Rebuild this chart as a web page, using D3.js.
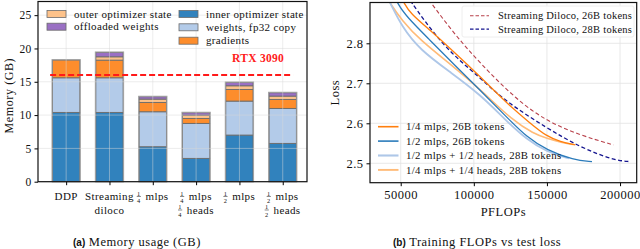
<!DOCTYPE html>
<html>
  <head>
    <title>memory usage and flops vs loss</title>
    <style>
      body { margin: 0; background: #fff; }
      text { font-family: "Liberation Serif", "DejaVu Serif", serif; fill: #111; }
    </style>
  </head>

  <body>
    <script src="https://d3js.org/d3.v7.min.js"></script>
    <script>

// ---- data, panel (a) ----
var methods = ["DDP", "Streaming diloco", "1/4 mlps", "1/4 mlps 1/4 heads", "1/2 mlps", "1/2 mlps 1/2 heads"];
var methodLabels = [["DDP"], ["Streaming", "diloco"], ["1/4 mlps"], ["1/4 mlps", "1/4 heads"], ["1/2 mlps"], ["1/2 mlps", "1/2 heads"]];
var innerOpt  = [10.4, 10.4, 5.25, 3.5, 7.0, 5.75];
var weights32 = [5.2, 5.2, 5.25, 5.25, 5.1, 5.25];
var grads     = [2.65, 2.65, 1.4, 0.75, 1.75, 1.35];
var outerOpt  = [0, 0.5, 0.5, 0.5, 0.55, 0.5];
var offloaded = [0, 0.65, 0.35, 0.35, 0.5, 0.5];
var memTicks = [0, 5, 10, 15, 20, 25];
var rtxLimit = 16;   // GB

// ---- data, panel (b) ----
var diloco26 = { pflops: [64000, 85000, 104300, 129500, 150000, 172800, 195500],
                 loss:   [2.935, 2.83, 2.75, 2.658, 2.605, 2.57, 2.546] };
var diloco28 = { pflops: [54000, 79000, 104300, 120300, 150000, 172800, 195500, 207000],
                 loss:   [2.92, 2.79, 2.715, 2.658, 2.588, 2.54, 2.508, 2.504] };
var q26 = { pflops: [50000, 52300, 56600, 70000, 86000, 104300, 122600, 138600, 150000, 159100, 169400],
            loss:   [2.92, 2.9, 2.875, 2.833, 2.78, 2.717, 2.65, 2.6, 2.567, 2.554, 2.546] };
var h26 = { pflops: [45000, 47700, 54100, 70000, 87000, 104300, 122600, 136300, 150000, 168200, 180800],
            loss:   [2.925, 2.9, 2.866, 2.808, 2.745, 2.683, 2.615, 2.565, 2.533, 2.508, 2.504] };
var hh28 = { pflops: [40000, 43000, 50700, 63200, 85000, 104300, 122000, 136000, 150000, 165000],
             loss:   [2.92, 2.9, 2.842, 2.783, 2.725, 2.672, 2.607, 2.56, 2.528, 2.512] };
var qq28 = { pflops: [40000, 42700, 50700, 63200, 86000, 104300, 127100, 140800, 150000, 160000, 168000],
             loss:   [2.92, 2.9, 2.858, 2.808, 2.742, 2.685, 2.605, 2.575, 2.562, 2.552, 2.547] };
var flopTicks = [50000, 100000, 150000, 200000];
var lossTicks = [2.5, 2.6, 2.7, 2.8];

var W = 640, H = 249;
var svg = d3.select("body").append("svg").attr("width", W).attr("height", H);

// ================= panel (a) =================
var a = { left: 38, right: 307, top: 1.5, bottom: 181.7 };
var xA = d3.scaleLinear().domain([-0.65, 5.56]).range([a.left, a.right]);
var yA = d3.scaleLinear().domain([0, 27.05]).range([a.bottom, a.top]);

var layers = [
  { name: "inner optimizer state", vals: innerOpt,  color: "#3182bd" },
  { name: "weights, fp32 copy",    vals: weights32, color: "#b3cbe9" },
  { name: "gradients",             vals: grads,     color: "#fd8d2c" },
  { name: "outer optimizer state", vals: outerOpt,  color: "#fdc28a" },
  { name: "offloaded weights",     vals: offloaded, color: "#9a70c4" }
];

var barW = 0.63;
var gA = svg.append("g");
methods.forEach(function (m, i) {
  var base = 0;
  layers.forEach(function (l) {
    var v = l.vals[i];
    if (v > 0) {
      gA.append("rect")
        .attr("x", xA(i - barW / 2))
        .attr("width", xA(i + barW / 2) - xA(i - barW / 2))
        .attr("y", yA(base + v))
        .attr("height", yA(base) - yA(base + v))
        .attr("fill", l.color)
        .attr("stroke", "#6b6b6b")
        .attr("stroke-width", 0.9);
    }
    base += v;
  });
  // outer grey edge of the whole bar
  gA.append("rect")
    .attr("x", xA(i - barW / 2) - 0.5)
    .attr("width", xA(i + barW / 2) - xA(i - barW / 2) + 1)
    .attr("y", yA(base) - 0.5)
    .attr("height", yA(0) - yA(base) + 0.5)
    .attr("fill", "none")
    .attr("stroke", "#a0a0a0")
    .attr("stroke-width", 1);
});

// grid on top, faint
memTicks.forEach(function (t) {
  gA.append("line").attr("x1", a.left).attr("x2", a.right).attr("y1", yA(t)).attr("y2", yA(t))
    .attr("stroke", "#d8d8d8").attr("stroke-opacity", 0.6).attr("stroke-width", 0.8);
});
methods.forEach(function (m, i) {
  gA.append("line").attr("x1", xA(i)).attr("x2", xA(i)).attr("y1", a.top).attr("y2", a.bottom)
    .attr("stroke", "#d8d8d8").attr("stroke-opacity", 0.6).attr("stroke-width", 0.8);
});

// RTX 3090 line
gA.append("line")
  .attr("x1", xA(-0.37)).attr("x2", xA(5.24))
  .attr("y1", yA(rtxLimit)).attr("y2", yA(rtxLimit))
  .attr("stroke", "#ff1a1a").attr("stroke-width", 2).attr("stroke-dasharray", "6,3");
gA.append("text").attr("x", 232).attr("y", 62)
  .style("font-weight", "bold").style("font-size", "11.5px").style("letter-spacing", "0.3px").style("fill", "#ff1a1a")
  .text("RTX 3090");

// axes
var yAxisA = d3.axisLeft(yA).tickValues(memTicks).tickSize(3.5).tickPadding(3);
svg.append("g").attr("transform", "translate(" + a.left + ",0)").call(yAxisA)
  .call(function (g) { g.select(".domain").remove(); })
  .selectAll("text").style("font-size", "11.5px").style("font-family", "Liberation Serif").style("letter-spacing", "0.3px");
svg.append("g").attr("transform", "translate(0," + a.bottom + ")")
  .call(d3.axisBottom(xA).tickValues(d3.range(methods.length)).tickSize(3.5).tickFormat(""))
  .call(function (g) { g.select(".domain").remove(); });
svg.append("rect").attr("x", a.left).attr("y", a.top).attr("width", a.right - a.left)
  .attr("height", a.bottom - a.top).attr("fill", "none").attr("stroke", "#111").attr("stroke-width", 1.2);

// x labels with stacked fractions
function fracLabel(parent, cx, baseline, str, size) {
  var g = parent.append("g").style("letter-spacing", "0.4px");
  var m = str.match(/^(\d)\/(\d) (.*)$/);
  var x = 0;
  if (m) {
    var fs = size * 0.58;
    var num = g.append("text").attr("x", x).attr("y", baseline - size * 0.4).style("font-size", fs + "px").text(m[1]);
    var fw = num.node().getComputedTextLength();
    g.append("text").attr("x", x).attr("y", baseline + size * 0.28).style("font-size", fs + "px").text(m[2]);
    g.append("line").attr("x1", x - 0.3).attr("x2", x + fw + 0.3)
      .attr("y1", baseline - size * 0.32).attr("y2", baseline - size * 0.32)
      .attr("stroke", "#111").attr("stroke-width", 0.5);
    x += fw + size * 0.45;
    str = m[3];
  }
  var t = g.append("text").attr("x", x).attr("y", baseline).style("font-size", size + "px").text(str);
  var w = x + t.node().getComputedTextLength();
  g.attr("transform", "translate(" + (cx - w / 2) + ",0)");
}
methodLabels.forEach(function (lines, i) {
  lines.forEach(function (s, k) {
    fracLabel(svg, xA(i), 200 + k * 13.5, s, 11);
  });
});

svg.append("text").attr("transform", "translate(13," + ((a.top + a.bottom) / 2 + 4) + ") rotate(-90)")
  .attr("text-anchor", "middle").style("font-size", "12px").style("letter-spacing", "0.6px").text("Memory (GB)");

// legend (a)
var legA = [
  { layer: 3, x: 47, y: 14 }, { layer: 4, x: 47, y: 26.7 },
  { layer: 0, x: 179, y: 14 }, { layer: 1, x: 179, y: 27.3 }, { layer: 2, x: 179, y: 40.7 }
];
legA.forEach(function (d) {
  var l = layers[d.layer];
  svg.append("rect").attr("x", d.x).attr("y", d.y - 3.5).attr("width", 19).attr("height", 7)
    .attr("fill", l.color).attr("stroke", "#6b6b6b").attr("stroke-width", 0.8);
  svg.append("text").attr("x", d.x + 27).attr("y", d.y + 3.5)
    .style("font-size", "11px").style("letter-spacing", "0.35px").text(l.name);
});

// caption (a)
var capA = svg.append("text").attr("x", 73).attr("y", 246).style("font-size", "12.5px").style("letter-spacing", "0.5px");
capA.append("tspan").style("font-family", "Liberation Sans").style("font-weight", "bold").style("font-size", "10px").style("letter-spacing", "0px").text("(a)");
capA.append("tspan").text("  Memory usage (GB)");

// ================= panel (b) =================
var b = { left: 370, right: 636.7, top: 2.5, bottom: 182.7 };
var xB = d3.scaleLinear().domain([29000, 211400]).range([b.left, b.right]);
var yB = d3.scaleLinear().domain([2.4515, 2.902]).range([b.bottom, b.top]);

svg.append("defs").append("clipPath").attr("id", "clipB").append("rect")
  .attr("x", b.left).attr("y", b.top).attr("width", b.right - b.left).attr("height", b.bottom - b.top);

var gB = svg.append("g");
lossTicks.forEach(function (t) {
  gB.append("line").attr("x1", b.left).attr("x2", b.right).attr("y1", yB(t)).attr("y2", yB(t))
    .attr("stroke", "#e2e2e2").attr("stroke-width", 0.8);
});
flopTicks.forEach(function (t) {
  gB.append("line").attr("x1", xB(t)).attr("x2", xB(t)).attr("y1", b.top).attr("y2", b.bottom)
    .attr("stroke", "#e2e2e2").attr("stroke-width", 0.8);
});

var series = [
  { d: diloco26, color: "#b8404a", w: 1.1, dash: "4,2.5", label: "Streaming Diloco, 26B tokens" },
  { d: diloco28, color: "#15158f", w: 1.3, dash: "4,2.5", label: "Streaming Diloco, 28B tokens" },
  { d: qq28, color: "#ffbb78", w: 1.6, dash: null, label: "1/4 mlps + 1/4 heads, 28B tokens" },
  { d: hh28, color: "#aec7e8", w: 1.8, dash: null, label: "1/2 mlps + 1/2 heads, 28B tokens" },
  { d: h26, color: "#2b7bba", w: 1.3, dash: null, label: "1/2 mlps, 26B tokens" },
  { d: q26, color: "#ff7f0e", w: 1.3, dash: null, label: "1/4 mlps, 26B tokens" }
];

var line = d3.line().curve(d3.curveBasis)
  .x(function (p) { return xB(p[0]); }).y(function (p) { return yB(p[1]); });

var plot = gB.append("g").attr("clip-path", "url(#clipB)");
series.forEach(function (s) {
  var pts = d3.zip(s.d.pflops, s.d.loss);
  plot.append("path").attr("d", line(pts)).attr("fill", "none")
    .attr("stroke", s.color).attr("stroke-width", s.w)
    .attr("stroke-dasharray", s.dash);
});

svg.append("g").attr("transform", "translate(" + b.left + ",0)")
  .call(d3.axisLeft(yB).tickValues(lossTicks).tickSize(3.5).tickPadding(3).tickFormat(d3.format(".1f")))
  .call(function (g) { g.select(".domain").remove(); })
  .selectAll("text").style("font-size", "12.5px").style("font-family", "Liberation Serif").style("letter-spacing", "0.5px");
svg.append("g").attr("transform", "translate(0," + b.bottom + ")")
  .call(d3.axisBottom(xB).tickValues(flopTicks).tickSize(3.5).tickPadding(4).tickFormat(d3.format("d")))
  .call(function (g) { g.select(".domain").remove(); })
  .selectAll("text").style("font-size", "12.5px").style("font-family", "Liberation Serif").style("letter-spacing", "0.5px");
svg.append("rect").attr("x", b.left).attr("y", b.top).attr("width", b.right - b.left)
  .attr("height", b.bottom - b.top).attr("fill", "none").attr("stroke", "#111").attr("stroke-width", 1.2);

svg.append("text").attr("x", (b.left + b.right) / 2).attr("y", 215.5).attr("text-anchor", "middle")
  .style("font-size", "12.5px").style("letter-spacing", "0.5px").text("PFLOPs");
svg.append("text").attr("transform", "translate(339," + ((b.top + b.bottom) / 2) + ") rotate(-90)")
  .attr("text-anchor", "middle").style("font-size", "12.5px").style("letter-spacing", "0.5px").text("Loss");

// legend top right (dashed)
var legTop = [series[0], series[1]];
svg.append("rect").attr("x", 462).attr("y", 6).attr("width", 172).attr("height", 31)
  .attr("fill", "#fff").attr("fill-opacity", 0.85).attr("stroke", "#eee").attr("rx", 2);
legTop.forEach(function (s, k) {
  var y = 15.7 + k * 13.5;
  svg.append("line").attr("x1", 470).attr("x2", 489).attr("y1", y).attr("y2", y)
    .attr("stroke", s.color).attr("stroke-width", s.w).attr("stroke-dasharray", "3.5,2");
  svg.append("text").attr("x", 498).attr("y", y + 3.6)
    .style("font-size", "10.5px").style("letter-spacing", "0.25px").text(s.label);
});

// legend bottom left (solid)
var legBot = [series[5], series[4], series[3], series[2]];
legBot.forEach(function (s, k) {
  var y = 126.7 + k * 14.4;
  svg.append("line").attr("x1", 378).attr("x2", 398.5).attr("y1", y).attr("y2", y)
    .attr("stroke", s.color).attr("stroke-width", s.w + 0.3);
  svg.append("text").attr("x", 406).attr("y", y + 3.6)
    .style("font-size", "10.8px").style("letter-spacing", "0.35px").text(s.label);
});

// caption (b)
var capB = svg.append("text").attr("x", 393).attr("y", 246).style("font-size", "12.5px").style("letter-spacing", "0.5px");
capB.append("tspan").style("font-family", "Liberation Sans").style("font-weight", "bold").style("font-size", "10px").style("letter-spacing", "0px").text("(b)");
capB.append("tspan").text("  Training FLOPs vs test loss");

    </script>
  </body>
</html>
